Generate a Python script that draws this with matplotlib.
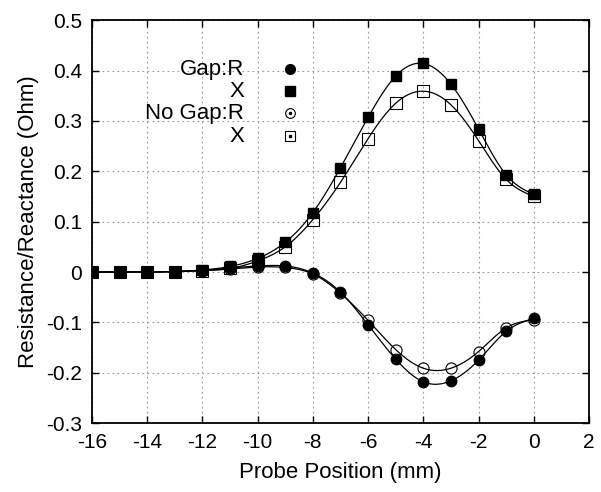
import numpy as np
import matplotlib
matplotlib.use('Agg')
import matplotlib.pyplot as plt

plt.rcParams['font.family'] = ['Liberation Sans', 'DejaVu Sans']
plt.rcParams['axes.unicode_minus'] = False

# probe position (mm)
pos = [-16, -15, -14, -13, -12, -11, -10, -9, -8, -7, -6, -5, -4, -3, -2, -1, 0]

gap_r = [0, 0, 0, 0.001, 0.003, 0.008, 0.012, 0.012, -0.002, -0.040, -0.105,
         -0.173, -0.218, -0.216, -0.175, -0.118, -0.092]
gap_x = [0, 0, 0, 0.001, 0.004, 0.011, 0.027, 0.059, 0.118, 0.207, 0.307,
         0.389, 0.414, 0.373, 0.284, 0.193, 0.154]
nogap_r = [0, 0, 0, 0.001, 0.003, 0.006, 0.010, 0.009, -0.004, -0.042, -0.096,
           -0.154, -0.191, -0.191, -0.158, -0.111, -0.095]
nogap_x = [0, 0, 0, 0.001, 0.003, 0.007, 0.022, 0.050, 0.104, 0.178, 0.265,
           0.335, 0.359, 0.332, 0.261, 0.184, 0.150]

xticks = [-16, -14, -12, -10, -8, -6, -4, -2, 0, 2]
yticks = [-0.3, -0.2, -0.1, 0, 0.1, 0.2, 0.3, 0.4, 0.5]
ylabels = ['-0.3', '-0.2', '-0.1', '0', '0.1', '0.2', '0.3', '0.4', '0.5']
keys = ['Gap:R', 'X', 'No Gap:R', 'X']


def spline(x, y, n=400):
    # natural cubic spline, only used to draw the smooth line (like gnuplot csplines)
    x = np.asarray(x, float)
    y = np.asarray(y, float)
    m = len(x)
    h = np.diff(x)
    A = np.zeros((m, m))
    b = np.zeros(m)
    A[0, 0] = A[-1, -1] = 1
    for i in range(1, m - 1):
        A[i, i - 1] = h[i - 1]
        A[i, i] = 2 * (h[i - 1] + h[i])
        A[i, i + 1] = h[i]
        b[i] = 3 * ((y[i + 1] - y[i]) / h[i] - (y[i] - y[i - 1]) / h[i - 1])
    c = np.linalg.solve(A, b)
    xs = np.linspace(x[0], x[-1], n)
    k = np.clip(np.searchsorted(x, xs) - 1, 0, m - 2)
    dx = xs - x[k]
    bb = (y[k + 1] - y[k]) / h[k] - h[k] * (2 * c[k] + c[k + 1]) / 3
    dd = (c[k + 1] - c[k]) / (3 * h[k])
    return xs, y[k] + bb * dx + c[k] * dx ** 2 + dd * dx ** 3


fig = plt.figure(figsize=(6.01, 4.92), dpi=100)
ax = fig.add_axes([0.153, 0.140, 0.827, 0.819])

for ys in (gap_r, gap_x, nogap_r, nogap_x):
    sx, sy = spline(pos, ys)
    ax.plot(sx, sy, color='black', lw=0.9, zorder=2)

ax.plot(pos, gap_r, 'o', color='black', ms=7.5, zorder=3)
ax.plot(pos, gap_x, 's', color='black', ms=7.5, zorder=3)
ax.plot(pos, nogap_r, 'o', mfc='none', mec='black', mew=0.8, ms=8, zorder=3)
ax.plot(pos, nogap_x, 's', mfc='none', mec='black', mew=0.8, ms=8, zorder=3)

# gnuplot-style key: right-aligned text, symbol on the right
ky = [0.878, 0.824, 0.769, 0.712]
for i, lab in enumerate(keys):
    ax.text(0.306, ky[i], lab, transform=ax.transAxes, ha='right', va='center', fontsize=16)
ax.plot(0.398, ky[0], 'o', color='black', ms=7, transform=ax.transAxes, clip_on=False)
ax.plot(0.398, ky[1], 's', color='black', ms=6.5, transform=ax.transAxes, clip_on=False)
ax.plot(0.398, ky[2], 'o', mfc='white', mec='black', mew=0.8, ms=7, transform=ax.transAxes)
ax.plot(0.398, ky[2], 'o', color='black', ms=1.5, transform=ax.transAxes)
ax.plot(0.398, ky[3], 's', mfc='white', mec='black', mew=0.8, ms=6.5, transform=ax.transAxes)
ax.plot(0.398, ky[3], 's', color='black', ms=1.5, transform=ax.transAxes)

ax.set_xlim(-16, 2)
ax.set_ylim(-0.3, 0.5)
ax.set_xticks(xticks)
ax.set_yticks(yticks)
ax.set_yticklabels(ylabels)
ax.grid(True, color='#999999', linestyle=(0, (1.5, 3)), lw=0.8)
ax.tick_params(direction='in', top=True, right=True, length=5, width=1,
               labelsize=15, pad=7)
for sp in ax.spines.values():
    sp.set_linewidth(1.3)

ax.set_xlabel('Probe Position (mm)', fontsize=16, labelpad=7)
ax.set_ylabel('Resistance/Reactance (Ohm)', fontsize=16, labelpad=5)

fig.savefig('out.png', dpi=100)
